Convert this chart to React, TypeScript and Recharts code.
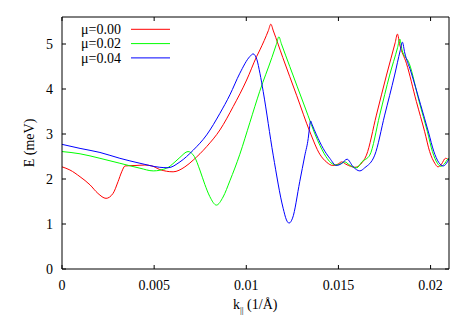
import { LineChart, Line, XAxis, YAxis } from "recharts";

// E(k) curves, k in 1/Å, E in meV
const mu000: [number, number][] = [
  [0, 2.27], [0.00043, 2.2], [0.00098, 2.05], [0.00152, 1.87], [0.00195, 1.68],
  [0.00239, 1.57], [0.00277, 1.68], [0.00304, 1.94], [0.00324, 2.16], [0.00342, 2.29],
  [0.00396, 2.3], [0.0045, 2.31], [0.00488, 2.29], [0.00531, 2.21], [0.00603, 2.16],
  [0.00667, 2.27], [0.00712, 2.42], [0.00785, 2.72], [0.00857, 3.09], [0.00929, 3.61],
  [0.01002, 4.2], [0.01056, 4.72], [0.01074, 4.87], [0.0112, 5.3],
  [0.01133, 5.44], [0.01147, 5.29], [0.01198, 4.7], [0.01274, 3.85], [0.01345, 3.05],
  [0.01399, 2.55], [0.01437, 2.37], [0.01469, 2.3], [0.01497, 2.33], [0.01518, 2.38],
  [0.0154, 2.33], [0.01567, 2.28], [0.01589, 2.26], [0.01621, 2.33], [0.01652, 2.53],
  [0.01706, 3.42], [0.01761, 4.31], [0.01808, 5.03], [0.0182, 5.22], [0.01833, 4.98],
  [0.01869, 4.57], [0.01923, 3.72], [0.01968, 3.05], [0.01995, 2.61], [0.02023, 2.35],
  [0.0204, 2.27], [0.02059, 2.33], [0.02081, 2.46], [0.021, 2.42],
];

const mu002: [number, number][] = [
  [0, 2.61], [0.00098, 2.56], [0.00206, 2.46], [0.00314, 2.35], [0.00423, 2.24],
  [0.00495, 2.18], [0.00568, 2.24], [0.00613, 2.38], [0.0064, 2.48], [0.00684, 2.61],
  [0.00718, 2.5], [0.00748, 2.2], [0.00775, 1.88], [0.00802, 1.61], [0.00838, 1.42],
  [0.00874, 1.6], [0.00911, 1.96], [0.00965, 2.55], [0.01019, 3.25], [0.01073, 3.95],
  [0.01139, 4.7], [0.01163, 4.99], [0.01177, 5.16], [0.0119, 5.01], [0.01236, 4.5],
  [0.01318, 3.6], [0.01388, 2.85], [0.01432, 2.5], [0.01459, 2.36], [0.01486, 2.31],
  [0.01513, 2.34], [0.01535, 2.38], [0.01557, 2.32], [0.01578, 2.27], [0.016, 2.25],
  [0.01627, 2.38], [0.0167, 2.53], [0.01724, 3.42], [0.01778, 4.31], [0.01821, 4.92],
  [0.01833, 5.11], [0.01845, 4.87], [0.01884, 4.57], [0.01938, 3.72], [0.01983, 3.05],
  [0.0201, 2.61], [0.02037, 2.35], [0.02055, 2.28], [0.02074, 2.33], [0.02093, 2.44],
  [0.021, 2.46],
];

const mu004: [number, number][] = [
  [0, 2.77], [0.00098, 2.68], [0.00206, 2.59], [0.00314, 2.46], [0.00423, 2.35],
  [0.00531, 2.26], [0.00575, 2.25], [0.0064, 2.38], [0.00712, 2.64], [0.00785, 2.98],
  [0.00857, 3.46], [0.00911, 3.87], [0.00965, 4.35], [0.01019, 4.72], [0.01037, 4.78],
  [0.01057, 4.66], [0.01074, 4.35], [0.01092, 3.94], [0.01146, 2.53], [0.012, 1.35],
  [0.01218, 1.09], [0.01232, 1.02], [0.01251, 1.13], [0.0129, 1.94], [0.01318, 2.53],
  [0.01336, 2.9], [0.01342, 3.1], [0.01349, 3.29], [0.01356, 3.22], [0.01381, 2.98],
  [0.01417, 2.68], [0.01453, 2.46], [0.01489, 2.3], [0.01516, 2.34], [0.01547, 2.44],
  [0.0158, 2.27], [0.01616, 2.18], [0.01643, 2.25], [0.01697, 2.53], [0.01751, 3.42],
  [0.01805, 4.31], [0.01835, 4.85], [0.01847, 5.04], [0.0186, 4.8], [0.01892, 4.4],
  [0.01946, 3.65], [0.0199, 3.02], [0.02017, 2.62], [0.02044, 2.37], [0.02068, 2.29],
  [0.02085, 2.34], [0.021, 2.45],
];

const series = [
  { label: "μ=0.00", color: "#ff0000", points: mu000 },
  { label: "μ=0.02", color: "#00ff00", points: mu002 },
  { label: "μ=0.04", color: "#0000ff", points: mu004 },
];

const kTicks = [0, 0.005, 0.01, 0.015, 0.02];
const eTicks = [0, 1, 2, 3, 4, 5];

const serif = "'Liberation Serif', 'DejaVu Serif', serif";
const font = { style: { fontFamily: serif, fontSize: 14 }, fill: "#000" };

const BottomTick = (props: any) => {
  const { x, y, payload } = props;
  return (
    <g>
      <line x1={x} y1={y} x2={x} y2={y - 4} stroke="#000" />
      <text x={x} y={y + 21} textAnchor="middle" {...font}>
        {String(payload.value)}
      </text>
    </g>
  );
};

const TopTick = (props: any) => {
  const { x, y } = props;
  return <line x1={x} y1={y} x2={x} y2={y + 4} stroke="#000" />;
};

const LeftTick = (props: any) => {
  const { x, y, payload } = props;
  return (
    <g>
      <line x1={x} y1={y} x2={x + 4} y2={y} stroke="#000" />
      <text x={x - 9} y={y + 5} textAnchor="end" {...font}>
        {String(payload.value)}
      </text>
    </g>
  );
};

const RightTick = (props: any) => {
  const { x, y } = props;
  return <line x1={x} y1={y} x2={x - 4} y2={y} stroke="#000" />;
};

export default function App() {
  return (
    <div style={{ position: "absolute", left: 0, top: 0, background: "#fff", fontFamily: serif }}>
      <LineChart width={471} height={330} margin={{ top: 12, right: 12, bottom: 31, left: 22 }}>
        <XAxis
          xAxisId="b"
          type="number"
          dataKey="k"
          domain={[0, 0.021]}
          ticks={kTicks}
          height={30}
          tickSize={0}
          tickMargin={0}
          tickLine={false}
          tick={<BottomTick />}
          axisLine={{ stroke: "#000" }}
          allowDataOverflow
        />
        <XAxis
          xAxisId="t"
          orientation="top"
          type="number"
          dataKey="k"
          domain={[0, 0.021]}
          ticks={kTicks}
          height={5}
          tickSize={0}
          tickMargin={0}
          tickLine={false}
          tick={<TopTick />}
          axisLine={{ stroke: "#000" }}
          allowDataOverflow
        />
        <YAxis
          yAxisId="l"
          type="number"
          domain={[0, 5.6]}
          ticks={eTicks}
          width={40}
          tickSize={0}
          tickMargin={0}
          tickLine={false}
          tick={<LeftTick />}
          axisLine={{ stroke: "#000" }}
          allowDataOverflow
        />
        <YAxis
          yAxisId="r"
          orientation="right"
          type="number"
          domain={[0, 5.6]}
          ticks={eTicks}
          width={10}
          tickSize={0}
          tickMargin={0}
          tickLine={false}
          tick={<RightTick />}
          axisLine={{ stroke: "#000" }}
          allowDataOverflow
        />
        {series.map((s) => (
          <Line
            key={s.label}
            xAxisId="b"
            yAxisId="l"
            data={s.points.map(([k, E]) => ({ k, E }))}
            dataKey="E"
            type="monotone"
            stroke={s.color}
            strokeWidth={1}
            dot={false}
            activeDot={false}
            isAnimationActive={false}
          />
        ))}
        {series.map((s, i) => (
          <g key={"leg" + i}>
            <text x={81} y={34 + i * 14.3} {...font}>
              {s.label}
            </text>
            <line x1={131} x2={170} y1={29.3 + i * 14.3} y2={29.3 + i * 14.3} stroke={s.color} />
          </g>
        ))}
        <text transform="translate(34,143) rotate(-90)" textAnchor="middle" {...font}>
          E (meV)
        </text>
        <text x={233} y={309} {...font}>
          k
          <tspan style={{ fontSize: 9 }} dy={4}>||</tspan>
          <tspan dy={-4}> (1/Å)</tspan>
        </text>
      </LineChart>
    </div>
  );
}
